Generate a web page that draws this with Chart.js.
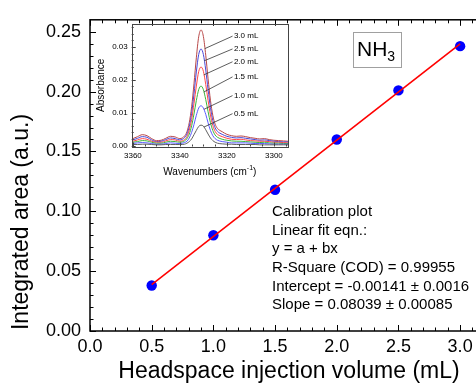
<!DOCTYPE html>
<html>
<head>
<meta charset="utf-8">
<script src="https://cdn.jsdelivr.net/npm/chart.js@4.4.0/dist/chart.umd.min.js"></script>
<style>
    html, body { margin: 0; padding: 0; background: #fff; overflow: hidden; }
    .wrap { position: relative; width: 476px; height: 385px; overflow: hidden; }
    #mainChart, #insetChart { position: absolute; left: 0; top: 0; }
</style>
</head>
<body>
<div class="wrap">
    <canvas id="mainChart" width="490" height="385"></canvas>
    <canvas id="insetChart" width="476" height="385"></canvas>
</div>
<script>
// calibration data
const volumes = [0.5, 1.0, 1.5, 2.0, 2.5, 3.0];
const areas = [0.038, 0.080, 0.118, 0.160, 0.201, 0.238];
const fitX = [0.5, 3.0];
const fitY = [0.0388, 0.2398];
const xTicks = [0, 0.5, 1.0, 1.5, 2.0, 2.5, 3.0];
const yTicks = [0, 0.05, 0.10, 0.15, 0.20, 0.25];
const fitText = [
    "Calibration plot",
    "Linear fit eqn.:",
    "y = a + bx",
    "R-Square (COD) = 0.99955",
    "Intercept = -0.00141 \u00b1 0.0016",
    "Slope = 0.08039 \u00b1 0.00085"
];

// inset spectra
const wavenumbers = [3360, 3358, 3356, 3354, 3352, 3350, 3348, 3346, 3344, 3342, 3340,
    3338, 3337, 3336, 3335, 3334, 3333, 3332, 3331, 3330, 3329, 3328, 3327, 3326, 3325, 3324,
    3322, 3320, 3318, 3316, 3314, 3312, 3310, 3308, 3306, 3304, 3302, 3300, 3298, 3296, 3294];
const abs05 = [.0003, .0003, .0004, .0004, .0003, .0002, .0002, .0003, .0003, .0003, .0003,
    .0004, .0007, .0012, .0020, .0033, .0046, .0058, .0062, .0059, .0048, .0035, .0023, .0015, .0010, .0007,
    .0005, .0004, .0004, .0003, .0003, .0003, .0003, .0003, .0002, .0002, .0002, .0002, .0002, .0002, .0002];
const abs10 = [.0006, .0008, .0009, .0008, .0006, .0004, .0004, .0006, .0008, .0007, .0006,
    .0009, .0013, .0023, .0040, .0064, .0092, .0114, .0121, .0114, .0095, .0069, .0046, .0030, .0021, .0016,
    .0012, .0010, .0008, .0008, .0008, .0008, .0007, .0006, .0006, .0006, .0005, .0004, .0004, .0004, .0004];
const abs15 = [.0010, .0012, .0015, .0014, .0010, .0007, .0007, .0010, .0013, .0012, .0010,
    .0014, .0021, .0035, .0060, .0096, .0137, .0170, .0181, .0170, .0140, .0103, .0070, .0046, .0032, .0025,
    .0019, .0016, .0014, .0013, .0013, .0012, .0011, .0010, .0009, .0010, .0008, .0007, .0007, .0006, .0006];
const abs20 = [.0013, .0017, .0021, .0019, .0013, .0010, .0010, .0014, .0018, .0017, .0013,
    .0018, .0027, .0047, .0079, .0128, .0181, .0225, .0239, .0226, .0186, .0137, .0093, .0061, .0043, .0034,
    .0027, .0022, .0019, .0018, .0019, .0017, .0015, .0014, .0013, .0013, .0012, .0010, .0010, .0009, .0008];
const abs25 = [.0017, .0022, .0027, .0025, .0017, .0012, .0013, .0018, .0023, .0021, .0017,
    .0024, .0035, .0058, .0098, .0157, .0224, .0277, .0294, .0277, .0230, .0170, .0116, .0076, .0054, .0043,
    .0034, .0028, .0025, .0023, .0024, .0022, .0020, .0018, .0016, .0017, .0015, .0013, .0012, .0011, .0011];
const abs30 = [.0021, .0027, .0033, .0030, .0021, .0015, .0016, .0022, .0028, .0026, .0021,
    .0029, .0042, .0070, .0118, .0188, .0267, .0331, .0352, .0332, .0275, .0203, .0138, .0092, .0065, .0052,
    .0042, .0034, .0030, .0028, .0029, .0027, .0024, .0022, .0020, .0021, .0018, .0016, .0015, .0014, .0013];
const spectraLabels = ["0.5 mL", "1.0 mL", "1.5 mL", "2.0 mL", "2.5 mL", "3.0 mL"];
const insetXTicks = [3360, 3340, 3320, 3300];
const insetYTicks = [0, 0.01, 0.02, 0.03];

Chart.defaults.font.family = '"Liberation Sans", Arial, sans-serif';
Chart.defaults.color = '#000';

function toXY(xs, ys) {
    return xs.map((v, i) => ({x: v, y: ys[i]}));
}

function fixTicks(list) {
    return function (scale) {
        scale.ticks = list.map(v => ({value: v}));
    };
}

// frame, inner ticks, labels for the main plot
const mainDecor = {
    id: 'mainDecor',
    afterDraw: function (chart) {
        const ctx = chart.ctx;
        const a = chart.chartArea;
        const x = chart.scales.x;
        const y = chart.scales.y;

        ctx.save();
        ctx.strokeStyle = '#000';
        ctx.lineWidth = 1.5;
        ctx.strokeRect(a.left, a.top, a.right - a.left, a.bottom - a.top);

        ctx.lineWidth = 1;
        ctx.beginPath();
        for (let i = 0; i <= 32; i++) {
            const px = Math.round(x.getPixelForValue(i / 10)) + 0.5;
            const len = i % 5 === 0 ? 6 : 3.5;
            ctx.moveTo(px, a.bottom);
            ctx.lineTo(px, a.bottom - len);
            ctx.moveTo(px, a.top);
            ctx.lineTo(px, a.top + len);
        }
        for (let i = 0; i <= 25; i++) {
            const py = Math.round(y.getPixelForValue(i / 100)) + 0.5;
            const len = i % 5 === 0 ? 6 : 3.5;
            ctx.moveTo(a.left, py);
            ctx.lineTo(a.left + len, py);
        }
        ctx.stroke();

        // NH3 label box
        ctx.fillStyle = '#fff';
        ctx.fillRect(353, 32, 48, 35);
        ctx.strokeStyle = '#a0a0a0';
        ctx.strokeRect(353.5, 32.5, 48, 35);
        ctx.fillStyle = '#000';
        ctx.textAlign = 'left';
        ctx.textBaseline = 'alphabetic';
        ctx.font = '21px "Liberation Sans", Arial, sans-serif';
        ctx.fillText('NH', 357, 56);
        const nhw = ctx.measureText('NH').width;
        ctx.font = '14px "Liberation Sans", Arial, sans-serif';
        ctx.fillText('3', 357 + nhw, 61);

        // fit results
        ctx.font = '15px "Liberation Sans", Arial, sans-serif';
        ctx.textBaseline = 'middle';
        fitText.forEach((t, i) => {
            ctx.fillText(t, 272, 212 + i * 18.6);
        });

        // axis titles
        ctx.font = '23px "Liberation Sans", Arial, sans-serif';
        ctx.textAlign = 'center';
        ctx.fillText('Headspace injection volume (mL)', 289, 372);
        ctx.translate(22, 222);
        ctx.rotate(-Math.PI / 2);
        ctx.fillText('Integrated area (a.u.)', 0, 0);
        ctx.restore();
    }
};

var mainOptions = {
    type: 'scatter',
    data: {
        datasets: [
            {
                label: 'fit',
                data: toXY(fitX, fitY),
                showLine: true,
                borderColor: '#ff0000',
                borderWidth: 1.6,
                pointRadius: 0,
                order: 0
            },
            {
                label: 'area',
                data: toXY(volumes, areas),
                backgroundColor: '#0000ff',
                borderColor: '#0000ff',
                borderWidth: 0,
                pointRadius: 5.2,
                order: 1
            }
        ]
    },
    options: {
        responsive: false,
        animation: false,
        devicePixelRatio: 1,
        layout: {padding: {top: 13, right: 3, left: 0, bottom: 0}},
        plugins: {legend: {display: false}, tooltip: {enabled: false}},
        scales: {
            x: {
                type: 'linear',
                min: 0,
                max: 3.2,
                afterBuildTicks: fixTicks(xTicks),
                afterFit: function (s) { s.height = 54; },
                grid: {display: false, drawTicks: false},
                border: {display: false},
                ticks: {
                    font: {size: 18},
                    padding: 5,
                    maxRotation: 0,
                    autoSkip: false,
                    callback: v => v.toFixed(1)
                }
            },
            y: {
                type: 'linear',
                min: 0,
                max: 0.26,
                afterBuildTicks: fixTicks(yTicks),
                afterFit: function (s) { s.width = 90; },
                grid: {display: false, drawTicks: false},
                border: {display: false},
                ticks: {
                    font: {size: 18},
                    padding: 9,
                    autoSkip: false,
                    callback: v => v.toFixed(2)
                }
            }
        }
    },
    plugins: [mainDecor]
};

new Chart(document.getElementById('mainChart').getContext('2d'), mainOptions);

// inset: frame, ticks, leader lines and titles
const insetDecor = {
    id: 'insetDecor',
    afterDraw: function (chart) {
        const ctx = chart.ctx;
        const a = chart.chartArea;
        const x = chart.scales.x;
        const y = chart.scales.y;

        ctx.save();
        ctx.strokeStyle = '#444';
        ctx.lineWidth = 1;
        ctx.strokeRect(Math.round(a.left) + 0.5, Math.round(a.top) + 0.5,
            Math.round(a.right - a.left), Math.round(a.bottom - a.top));

        ctx.beginPath();
        for (let w = 3295; w <= 3360; w += 5) {
            const px = Math.round(x.getPixelForValue(w)) + 0.5;
            const len = w % 20 === 0 ? 4 : 2;
            ctx.moveTo(px, a.bottom);
            ctx.lineTo(px, a.bottom - len);
        }
        for (let i = 0; i <= 18; i++) {
            const py = Math.round(y.getPixelForValue(i * 0.002)) + 0.5;
            const len = i % 5 === 0 ? 4 : 2;
            ctx.moveTo(a.left, py);
            ctx.lineTo(a.left + len, py);
        }
        ctx.stroke();

        // leader lines from curves to labels
        const starts = [[3329.8, 0.0056], [3329.8, 0.0110], [3329.8, 0.0163],
            [3329.8, 0.0215], [3329.6, 0.0258], [3329.4, 0.0295]];
        const labelY = [0.0097, 0.0152, 0.0209, 0.0255, 0.0294, 0.0333];
        ctx.strokeStyle = '#333';
        ctx.lineWidth = 0.8;
        ctx.fillStyle = '#000';
        ctx.font = '8px "Liberation Sans", Arial, sans-serif';
        ctx.textAlign = 'left';
        ctx.textBaseline = 'middle';
        spectraLabels.forEach((t, i) => {
            ctx.beginPath();
            ctx.moveTo(x.getPixelForValue(starts[i][0]), y.getPixelForValue(starts[i][1]));
            ctx.lineTo(x.getPixelForValue(3317.6), y.getPixelForValue(labelY[i]));
            ctx.stroke();
            ctx.fillText(t, x.getPixelForValue(3317.0), y.getPixelForValue(labelY[i]));
        });

        // titles
        const base = 'Wavenumbers (cm';
        ctx.font = '10px "Liberation Sans", Arial, sans-serif';
        const w1 = ctx.measureText(base).width;
        ctx.font = '7px "Liberation Sans", Arial, sans-serif';
        const w2 = ctx.measureText('-1').width;
        ctx.font = '10px "Liberation Sans", Arial, sans-serif';
        const w3 = ctx.measureText(')').width;
        let tx = (a.left + a.right) / 2 - (w1 + w2 + w3) / 2;
        ctx.fillText(base, tx, 172);
        ctx.font = '7px "Liberation Sans", Arial, sans-serif';
        ctx.fillText('-1', tx + w1, 168);
        ctx.font = '10px "Liberation Sans", Arial, sans-serif';
        ctx.fillText(')', tx + w1 + w2, 172);

        ctx.textAlign = 'center';
        ctx.translate(101, (a.top + a.bottom) / 2);
        ctx.rotate(-Math.PI / 2);
        ctx.fillText('Absorbance', 0, 0);
        ctx.restore();
    }
};

const spectra = [abs05, abs10, abs15, abs20, abs25, abs30];
const spectraColors = ['#606060', '#5a5aff', '#3cb43c', '#ff4848', '#4848d8', '#b84848'];

var insetOptions = {
    type: 'scatter',
    data: {
        datasets: spectra.map((s, i) => ({
            label: spectraLabels[i],
            data: toXY(wavenumbers, s),
            showLine: true,
            borderColor: spectraColors[i],
            borderWidth: 1,
            pointRadius: 0,
            cubicInterpolationMode: 'monotone'
        }))
    },
    options: {
        responsive: false,
        animation: false,
        devicePixelRatio: 1,
        layout: {padding: {top: 24, right: 188, left: 93, bottom: 201}},
        plugins: {legend: {display: false}, tooltip: {enabled: false}},
        scales: {
            x: {
                type: 'linear',
                reverse: true,
                min: 3294,
                max: 3360.5,
                afterBuildTicks: fixTicks(insetXTicks),
                afterFit: function (s) { s.height = 37.5; },
                grid: {display: false, drawTicks: false},
                border: {display: false},
                ticks: {font: {size: 8}, padding: 4, maxRotation: 0, autoSkip: false, callback: v => String(v)}
            },
            y: {
                type: 'linear',
                min: -0.0003,
                max: 0.037,
                afterBuildTicks: fixTicks(insetYTicks),
                afterFit: function (s) { s.width = 38.7; },
                grid: {display: false, drawTicks: false},
                border: {display: false},
                ticks: {font: {size: 8}, padding: 4, autoSkip: false, callback: v => v.toFixed(2)}
            }
        }
    },
    plugins: [insetDecor]
};

new Chart(document.getElementById('insetChart').getContext('2d'), insetOptions);
</script>
</body>
</html>
